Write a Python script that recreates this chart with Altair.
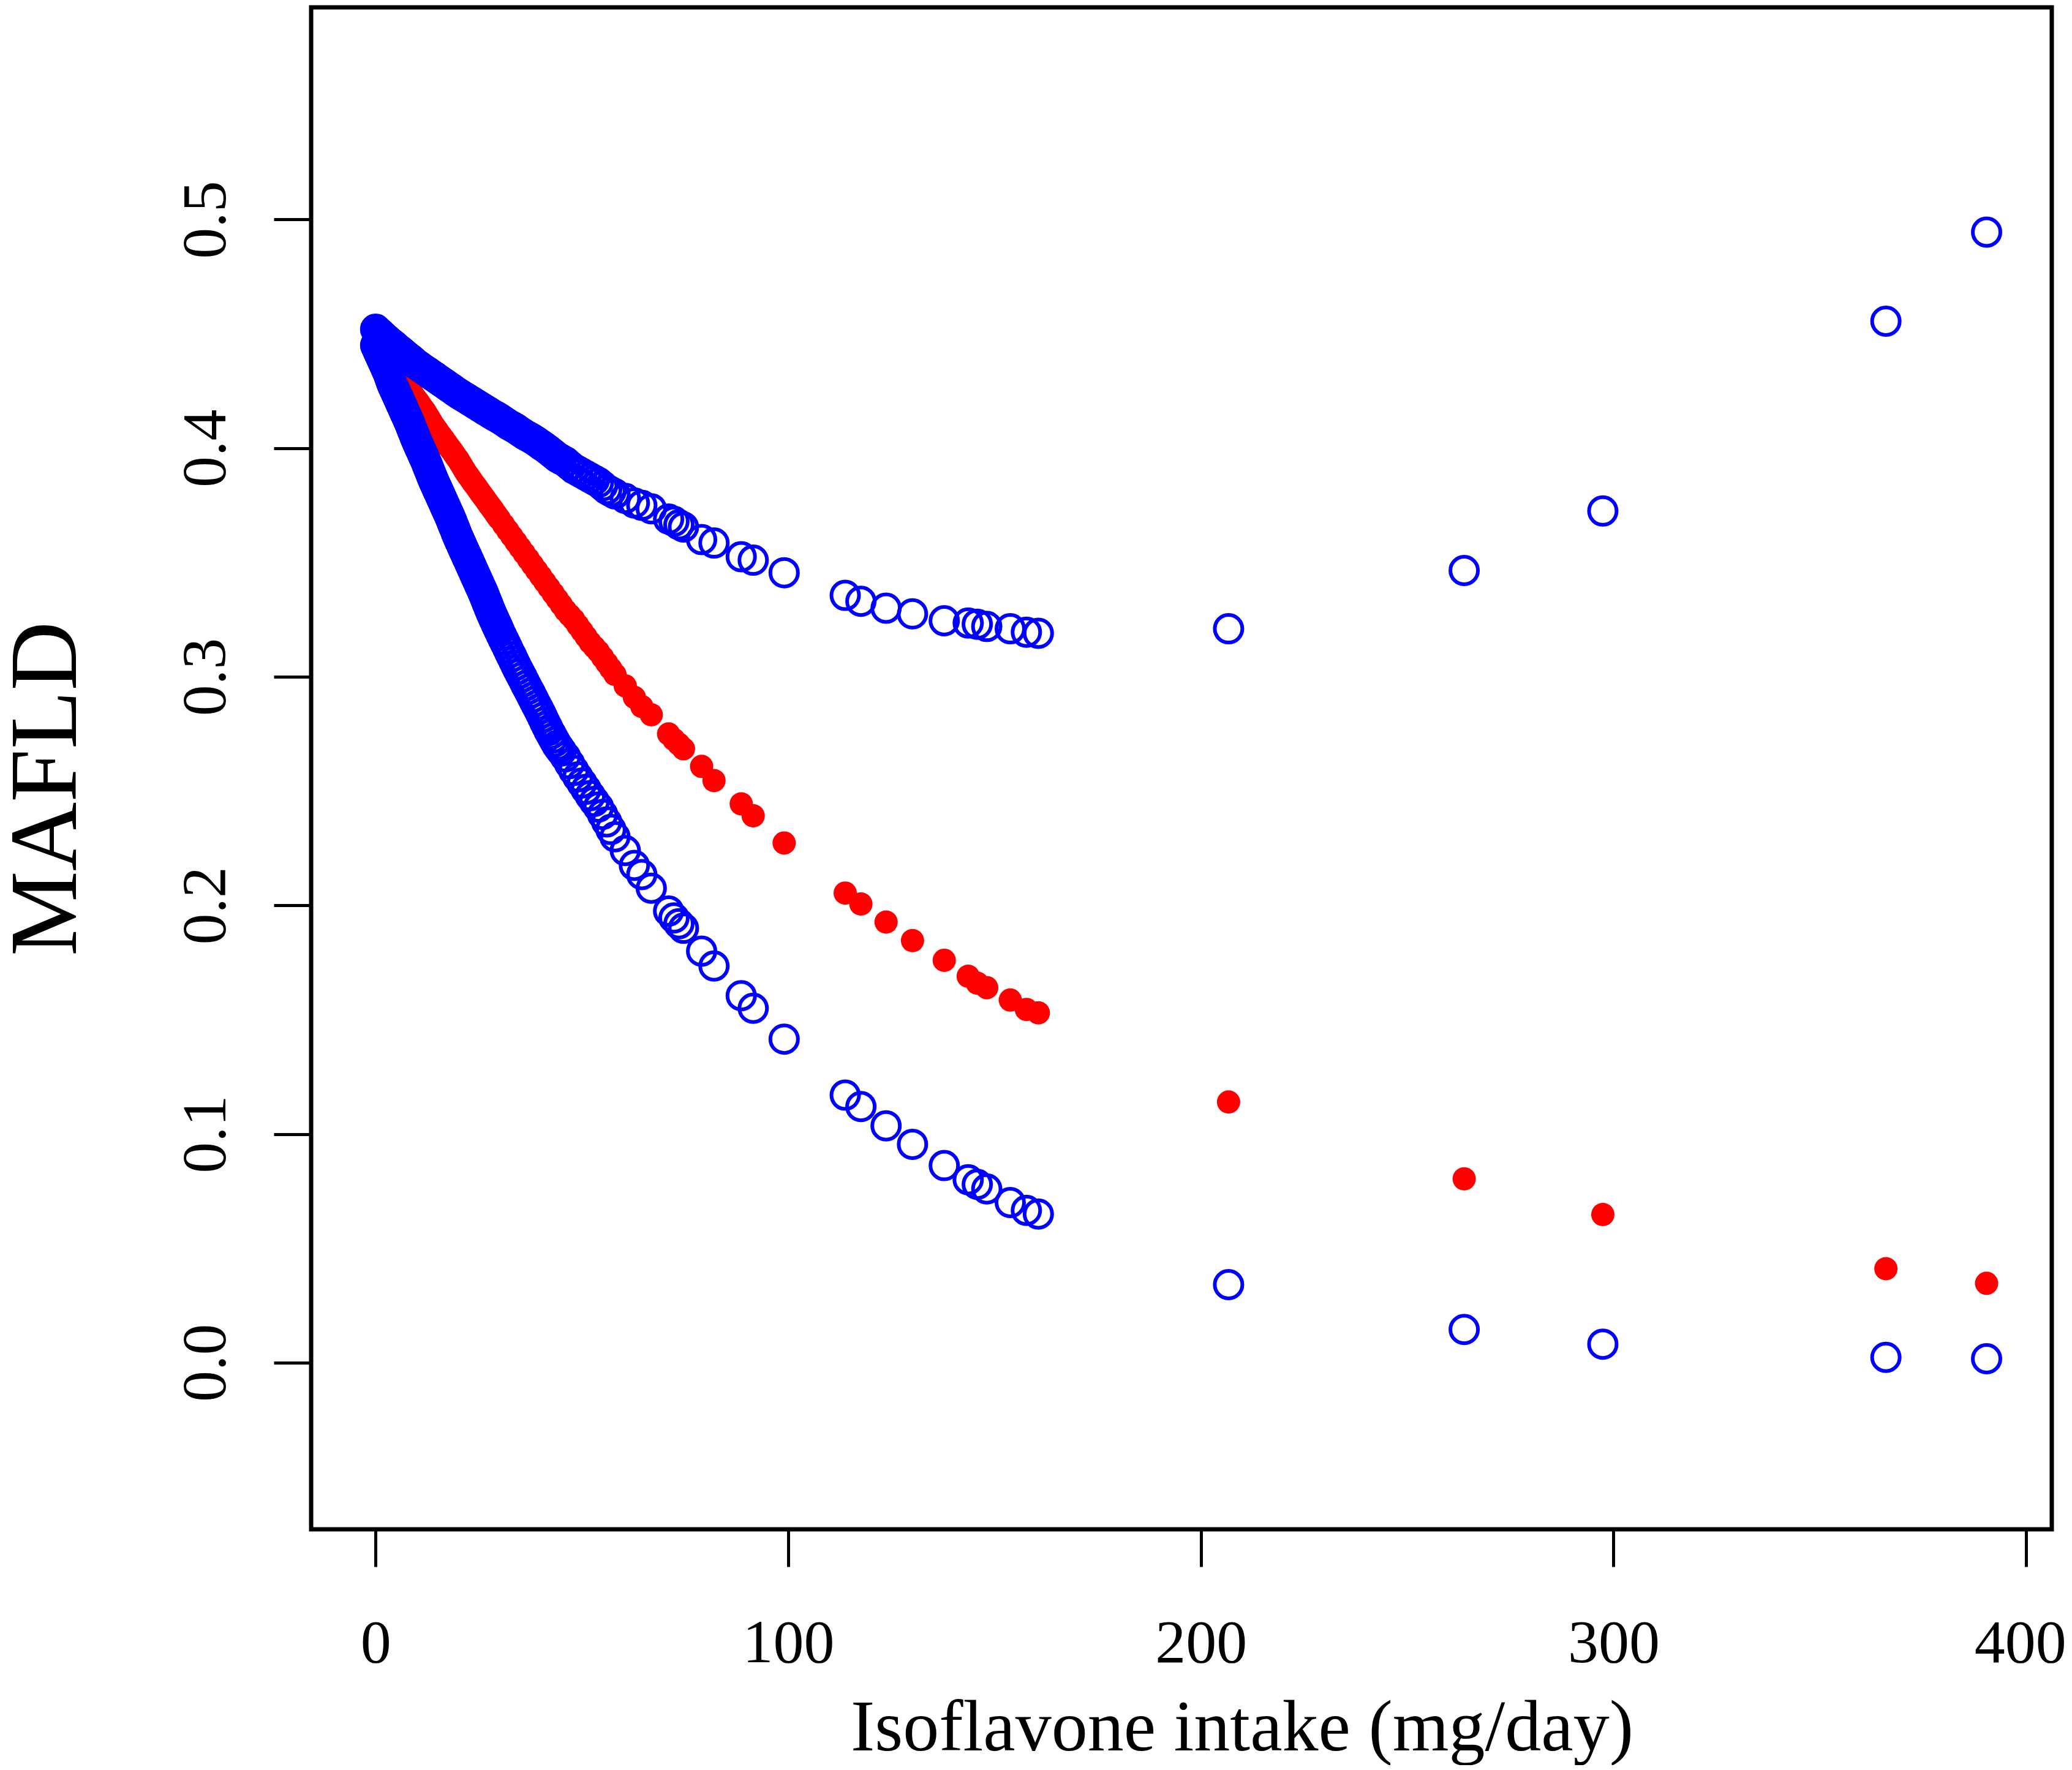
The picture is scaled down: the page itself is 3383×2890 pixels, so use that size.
import altair as alt
import pandas as pd

# Isoflavone intake (mg/day) at each observation
x_vals = [0, 0.5, 1, 1.5, 2, 2.5, 3, 3.5, 4, 4.5,
          5, 5.5, 6, 6.5, 7, 7.5, 8, 8.5, 9, 9.5,
          10, 10.5, 11, 11.5, 12, 12.5, 13, 13.5, 14, 14.5,
          15, 15.5, 16, 16.5, 17, 17.5, 18, 18.5, 19, 19.5,
          20, 20.5, 21, 21.5, 22, 22.5, 23, 23.5, 24, 24.5,
          25, 25.5, 26, 26.5, 27, 27.5, 28, 28.5, 29, 29.5,
          30,
          31, 32, 33, 34, 35, 36, 37, 38, 39, 40,
          41, 42, 43, 44, 45, 46, 47, 48, 49, 50,
          51, 52, 53, 54, 55, 56, 57, 58,
          60.5, 62.7, 64.5, 66.8, 71.0, 72.3, 73.5, 74.6, 79.0, 82.0,
          88.6, 91.5, 99.0, 113.8, 117.6, 123.7, 130.1, 137.8, 143.6,
          145.8, 148.1, 153.8, 157.7, 160.6, 206.7, 263.8, 297.4, 366.0, 390.4]

# upper 95% CI (blue open circles)
upper_vals = [0.4520, 0.4511, 0.4503, 0.4494, 0.4485, 0.4478, 0.4470, 0.4462, 0.4455, 0.4448,
              0.4440, 0.4432, 0.4425, 0.4418, 0.4410, 0.4402, 0.4395, 0.4388, 0.4380, 0.4372,
              0.4365, 0.4359, 0.4352, 0.4346, 0.4340, 0.4334, 0.4328, 0.4321, 0.4315, 0.4309,
              0.4302, 0.4296, 0.4290, 0.4284, 0.4278, 0.4271, 0.4265, 0.4259, 0.4252, 0.4246,
              0.4240, 0.4234, 0.4229, 0.4223, 0.4218, 0.4212, 0.4206, 0.4201, 0.4195, 0.4190,
              0.4184, 0.4178, 0.4173, 0.4167, 0.4162, 0.4156, 0.4150, 0.4145, 0.4140, 0.4135,
              0.4130,
              0.4118, 0.4105, 0.4095, 0.4085, 0.4072, 0.4060, 0.4050, 0.4040, 0.4028, 0.4015,
              0.4003, 0.3990, 0.3975, 0.3960, 0.3950, 0.3940, 0.3925, 0.3910, 0.3900, 0.3890,
              0.3880, 0.3870, 0.3860, 0.3850, 0.3835, 0.3820, 0.3810, 0.3800,
              0.378, 0.376, 0.375, 0.3735, 0.369, 0.368, 0.3665, 0.3655, 0.360, 0.3585,
              0.3525, 0.351, 0.3455, 0.3356, 0.333, 0.330, 0.3275, 0.3245, 0.3235,
              0.323, 0.322, 0.321, 0.3195, 0.319, 0.321, 0.3465, 0.3725, 0.4555, 0.4945]

# fitted MAFLD probability (red dots)
fit_vals = [0.4480, 0.4468, 0.4455, 0.4442, 0.4430, 0.4415, 0.4400, 0.4385, 0.4370, 0.4358,
            0.4345, 0.4332, 0.4320, 0.4305, 0.4290, 0.4275, 0.4260, 0.4248, 0.4235, 0.4222,
            0.4210, 0.4198, 0.4185, 0.4172, 0.4160, 0.4145, 0.4130, 0.4115, 0.4100, 0.4088,
            0.4075, 0.4062, 0.4050, 0.4038, 0.4025, 0.4012, 0.4000, 0.3988, 0.3975, 0.3962,
            0.3950, 0.3935, 0.3920, 0.3905, 0.3890, 0.3878, 0.3865, 0.3852, 0.3840, 0.3828,
            0.3815, 0.3802, 0.3790, 0.3778, 0.3765, 0.3752, 0.3740, 0.3728, 0.3715, 0.3702,
            0.3690,
            0.3665, 0.3640, 0.3615, 0.3590, 0.3565, 0.3540, 0.3515, 0.3490, 0.3465, 0.3440,
            0.3415, 0.3390, 0.3365, 0.3340, 0.3315, 0.3290, 0.3270, 0.3250, 0.3225, 0.3200,
            0.3175, 0.3150, 0.3130, 0.3110, 0.3085, 0.3060, 0.3035, 0.3010,
            0.296, 0.291, 0.287, 0.2834, 0.275, 0.2725, 0.2705, 0.2685, 0.2608, 0.2546,
            0.2444, 0.2392, 0.2273, 0.2054, 0.2006, 0.1927, 0.1846, 0.176, 0.169,
            0.166, 0.164, 0.1586, 0.1545, 0.153, 0.114, 0.0804, 0.0648, 0.0411, 0.0347]

# lower 95% CI (blue open circles)
lower_vals = [0.4450, 0.4430, 0.4410, 0.4390, 0.4370, 0.4350, 0.4330, 0.4305, 0.4280, 0.4260,
              0.4240, 0.4220, 0.4200, 0.4180, 0.4160, 0.4140, 0.4120, 0.4098, 0.4075, 0.4052,
              0.4030, 0.4010, 0.3990, 0.3970, 0.3950, 0.3928, 0.3905, 0.3882, 0.3860, 0.3840,
              0.3820, 0.3800, 0.3780, 0.3760, 0.3740, 0.3720, 0.3700, 0.3678, 0.3655, 0.3632,
              0.3610, 0.3590, 0.3570, 0.3550, 0.3530, 0.3510, 0.3490, 0.3470, 0.3450, 0.3430,
              0.3410, 0.3390, 0.3370, 0.3348, 0.3325, 0.3302, 0.3280, 0.3260, 0.3240, 0.3220,
              0.3200,
              0.3162, 0.3125, 0.3088, 0.3050, 0.3015, 0.2980, 0.2945, 0.2910, 0.2875, 0.2840,
              0.2802, 0.2765, 0.2732, 0.2700, 0.2675, 0.2650, 0.2620, 0.2590, 0.2562, 0.2535,
              0.2508, 0.2480, 0.2455, 0.2430, 0.2398, 0.2365, 0.2332, 0.2300,
              0.224, 0.2175, 0.2135, 0.2075, 0.1975, 0.1945, 0.192, 0.190, 0.180, 0.1735,
              0.1605, 0.155, 0.1415, 0.117, 0.112, 0.1036, 0.0955, 0.0862, 0.080,
              0.078, 0.076, 0.070, 0.0666, 0.065, 0.0341, 0.0145, 0.0081, 0.0023, 0.0017]

# further observations on the dense stretch of both CI bands
x_dense = [0.25, 0.75, 1.25, 1.75, 2.25, 2.75, 3.25, 3.75, 4.25, 4.75,
           5.25, 5.75, 6.25, 6.75, 7.25, 7.75, 8.25, 8.75, 9.25, 9.75,
           10.25, 10.75, 11.25, 11.75, 12.25, 12.75, 13.25, 13.75, 14.25, 14.75,
           15.25, 15.75, 16.25, 16.75, 17.25, 17.75, 18.25, 18.75, 19.25, 19.75,
           20.25, 20.75, 21.25, 21.75, 22.25, 22.75, 23.25, 23.75, 24.25, 24.75,
           25.25, 25.75, 26.25, 26.75, 27.25, 27.75, 28.25, 28.75, 29.25, 29.75,
           30.5, 31.5, 32.5, 33.5, 34.5, 35.5, 36.5, 37.5, 38.5, 39.5,
           40.5, 41.5, 42.5, 43.5, 44.5]
upper_dense_vals = [0.4515, 0.4507, 0.4498, 0.4490, 0.4482, 0.4474, 0.4466, 0.4458, 0.4452, 0.4444,
                    0.4436, 0.4428, 0.4422, 0.4414, 0.4406, 0.4398, 0.4392, 0.4384, 0.4376, 0.4368,
                    0.4362, 0.4356, 0.4349, 0.4343, 0.4337, 0.4331, 0.4324, 0.4318, 0.4312, 0.4306,
                    0.4299, 0.4293, 0.4287, 0.4281, 0.4274, 0.4268, 0.4262, 0.4256, 0.4249, 0.4243,
                    0.4237, 0.4232, 0.4226, 0.4220, 0.4215, 0.4209, 0.4204, 0.4198, 0.4192, 0.4187,
                    0.4181, 0.4176, 0.4170, 0.4164, 0.4159, 0.4153, 0.4148, 0.4142, 0.4138, 0.4132,
                    0.4124, 0.4112, 0.4100, 0.4090, 0.4078, 0.4066, 0.4055, 0.4045, 0.4034, 0.4022,
                    0.4009, 0.3996, 0.3982, 0.3968, 0.3955]
lower_dense_vals = [0.4440, 0.4420, 0.4400, 0.4380, 0.4360, 0.4340, 0.4318, 0.4292, 0.4270, 0.4250,
                    0.4230, 0.4210, 0.4190, 0.4170, 0.4150, 0.4130, 0.4109, 0.4086, 0.4064, 0.4041,
                    0.4020, 0.4000, 0.3980, 0.3960, 0.3939, 0.3916, 0.3894, 0.3871, 0.3850, 0.3830,
                    0.3810, 0.3790, 0.3770, 0.3750, 0.3730, 0.3710, 0.3689, 0.3666, 0.3644, 0.3621,
                    0.3600, 0.3580, 0.3560, 0.3540, 0.3520, 0.3500, 0.3480, 0.3460, 0.3440, 0.3420,
                    0.3400, 0.3380, 0.3359, 0.3336, 0.3314, 0.3291, 0.3270, 0.3250, 0.3230, 0.3210,
                    0.3181, 0.3144, 0.3106, 0.3069, 0.3032, 0.2998, 0.2962, 0.2928, 0.2892, 0.2858,
                    0.2821, 0.2784, 0.2749, 0.2716, 0.2688]

x_ticks = [0, 100, 200, 300, 400]
y_ticks = [0.0, 0.1, 0.2, 0.3, 0.4, 0.5]

df = pd.DataFrame({"x": x_vals, "upper": upper_vals, "fit": fit_vals, "lower": lower_vals})
df_dense = pd.DataFrame({"x": x_dense, "upper": upper_dense_vals, "lower": lower_dense_vals})

FONT = "Liberation Serif"

x_scale = alt.Scale(domain=[-15.63, 406.2], nice=False, zero=False)
y_scale = alt.Scale(domain=[-0.0729, 0.5928], nice=False, zero=False)

x_axis = alt.Axis(
    values=x_ticks, format="d", title="Isoflavone intake (mg/day)",
    domain=False, grid=False, ticks=True, tickSize=61, tickWidth=5, tickColor="black",
    labelFont=FONT, labelFontSize=100, labelColor="black", labelPadding=155,
    labelBaseline="alphabetic", labelAlign="center", labelFlush=False, labelOverlap=False,
    labelOffset={"condition": {"test": "datum.value === 400", "value": -10}, "value": 0},
    titleFont=FONT, titleFontSize=118, titleFontWeight="normal", titleColor="black",
    titleX=1519.5, titleY=360, titleAlign="center", titleBaseline="alphabetic",
)
y_axis = alt.Axis(
    values=y_ticks, format=".1f", title="MAFLD",
    domain=False, grid=False, ticks=True, tickSize=61, tickWidth=5, tickColor="black",
    labelFont=FONT, labelFontSize=102, labelColor="black", labelPadding=80,
    labelAngle=270, labelAlign="center", labelBaseline="alphabetic",
    labelFlush=False, labelOverlap=False,
    titleFont=FONT, titleFontSize=156, titleFontWeight="normal", titleColor="black",
    titleAngle=270, titleX=-385, titleY=1275.5, titleAlign="center", titleBaseline="alphabetic",
)

fit_layer = alt.Chart(df).mark_point(
    shape="circle", filled=True, color="#FF0000", size=1444, opacity=1, strokeWidth=0
).encode(
    x=alt.X("x:Q", scale=x_scale, axis=x_axis),
    y=alt.Y("fit:Q", scale=y_scale, axis=y_axis),
)

ring = dict(shape="circle", filled=False, color="#0000FF", size=2025, opacity=1, strokeWidth=6)

ci_layer = alt.Chart(df).transform_fold(
    ["upper", "lower"], as_=["band", "value"]
).mark_point(**ring).encode(
    x=alt.X("x:Q", scale=x_scale, axis=x_axis),
    y=alt.Y("value:Q", scale=y_scale, axis=y_axis),
)

dense_layer = alt.Chart(df_dense).transform_fold(
    ["upper", "lower"], as_=["band", "value"]
).mark_point(**ring).encode(
    x=alt.X("x:Q", scale=x_scale, axis=x_axis),
    y=alt.Y("value:Q", scale=y_scale, axis=y_axis),
)

chart = alt.layer(fit_layer, ci_layer, dense_layer).properties(
    width=2842, height=2485,
    autosize=alt.AutoSizeParams(type="none"),
    padding={"left": 500, "top": 4, "right": 25, "bottom": 385},
    background="white",
).configure_view(stroke="black", strokeWidth=7)

chart.save("out.html", embed_options={"renderer": "svg", "actions": False})
